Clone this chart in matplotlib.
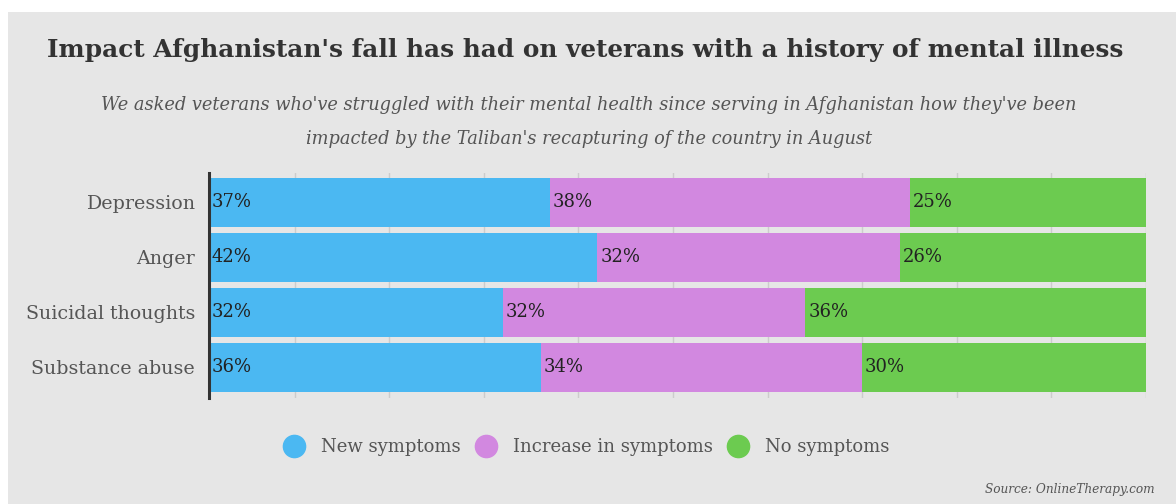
import matplotlib

matplotlib.use("Agg")

import matplotlib.pyplot as plt
from matplotlib.patches import Rectangle
from matplotlib.lines import Line2D
import numpy as np

categories = ["Depression", "Anger", "Suicidal thoughts", "Substance abuse"]
new_symptoms = [37, 42, 32, 36]
increase_symptoms = [38, 32, 32, 34]
no_symptoms = [25, 26, 36, 30]
series_names = ["New symptoms", "Increase in symptoms", "No symptoms"]
colors = ["#4bb8f2", "#d288e0", "#6ccb50"]

title = "Impact Afghanistan's fall has had on veterans with a history of mental illness"
subtitle = ("We asked veterans who've struggled with their mental health since serving in Afghanistan how they've been\n"
            "impacted by the Taliban's recapturing of the country in August")
source = "Source: OnlineTherapy.com"

BG = "#e6e6e6"
W, H = 1176, 504
SERIF = "DejaVu Serif"
XMIN = 0.95  # the value axis starts a little left of the drawn spine

fig = plt.figure(figsize=(W / 100, H / 100), dpi=100, facecolor="white")
fig.patches.append(Rectangle((8 / W, 0), 1 - 8 / W, 1 - 12 / H, transform=fig.transFigure,
                             facecolor=BG, edgecolor="none", zorder=-1))

ax = fig.add_axes([209 / W, 1 - 398 / H, (1146 - 209) / W, (398 - 173) / H])
ax.set_facecolor(BG)
ax.set_zorder(1)

y = np.arange(len(categories))
series = [new_symptoms, increase_symptoms, no_symptoms]
left = np.zeros(len(categories))
for values, color in zip(series, colors):
    vals = np.array(values, dtype=float)
    ax.barh(y, vals, left=left, height=0.89, color=color, zorder=2)
    for yi, (l, v) in enumerate(zip(left, vals)):
        ax.text(max(l, XMIN) + 0.3, yi, f"{int(v)}%", va="center", ha="left", fontsize=13,
                family=SERIF, color="#222222", zorder=3)
    left += vals

ax.set_xlim(XMIN, 100)
ax.set_ylim(3.555, -0.527)
ax.set_xticks(np.arange(10, 101, 10))
ax.xaxis.grid(True, color="#cccccc", linewidth=1, zorder=0)
ax.set_axisbelow(True)
ax.tick_params(axis="x", length=0, labelbottom=False)
ax.tick_params(axis="y", length=0, pad=10)
ax.set_yticks(y)
ax.set_yticklabels(categories, fontsize=13.7, family=SERIF, color="#555555")
for side in ["top", "right", "bottom"]:
    ax.spines[side].set_visible(False)
ax.spines["left"].set_color("#333333")
ax.spines["left"].set_linewidth(2.2)
ax.spines["left"].set_zorder(4)

fig.text(585 / W, 1 - 50 / H, title, ha="center", va="center", fontsize=17.8,
         fontweight="bold", family=SERIF, color="#333333")
fig.text(589 / W, 1 - 122 / H, subtitle, ha="center", va="center", fontsize=12.8,
         style="italic", family=SERIF, color="#555555", linespacing=2.2)

handles = [Line2D([], [], marker="o", linestyle="none", markersize=16, markerfacecolor=c,
                  markeredgecolor=c) for c in colors]
fig.legend(handles, series_names, loc="center", bbox_to_anchor=(587 / W, 1 - 447 / H),
           ncol=3, frameon=False, prop={"family": SERIF, "size": 13}, labelcolor="#555555",
           handlelength=1.0, handletextpad=1.0, columnspacing=0.9)

fig.text(1155 / W, 1 - 490 / H, source, ha="right", va="center", fontsize=8.7,
         style="italic", family=SERIF, color="#555555")

fig.savefig("out.png", dpi=100, facecolor="white")
